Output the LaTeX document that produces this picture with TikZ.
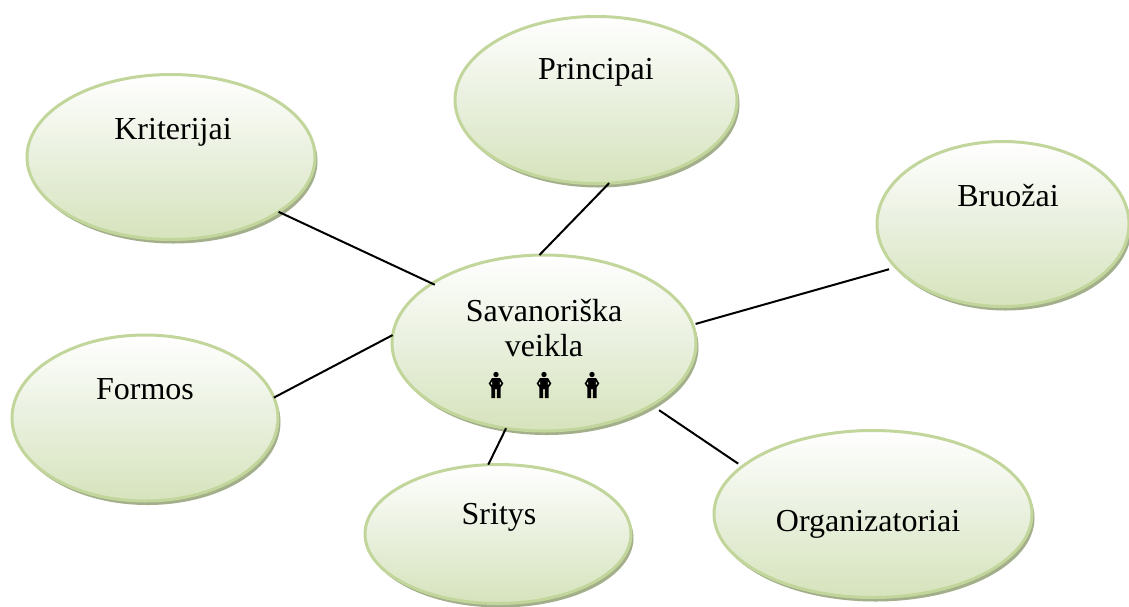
\documentclass[tikz,border=0pt]{standalone}
\usepackage{fontspec}
\setmainfont{Liberation Serif}
\usetikzlibrary{shapes.geometric,shadows}
\definecolor{rimcol}{HTML}{C2D69B}
\definecolor{lowcol}{HTML}{D6E3BC}
\definecolor{midcol}{HTML}{E9F0DE}
\definecolor{shadecol}{HTML}{A3AF8B}
\definecolor{holecol}{HTML}{DFE8CE}
\tikzset{
  x=1pt,y=-1pt,
  bubble/.style={ellipse,draw=rimcol,line width=3pt,inner sep=0pt,outer sep=0pt,
    top color=white,bottom color=lowcol,middle color=midcol,
    general shadow={shadow xshift=2.5pt,shadow yshift=-4pt,fill=shadecol,draw=none}},
  word/.style={font=\fontsize{32}{38}\selectfont,text=black,anchor=base,inner sep=0pt},
  link/.style={draw=black,line width=2pt},
  person/.pic={
    \fill[black] (0,-10.5) circle (2.7);
    \fill[black] (-4,-7) -- (4,-7) -- (7.3,-1.5) -- (4.6,2.5) -- (4.6,13) -- (0.8,13) -- (0.8,4) -- (-0.8,4) -- (-0.8,13) -- (-4.6,13) -- (-4.6,2.5) -- (-7.3,-1.5) -- cycle;
    \fill[holecol] (-5.2,-1.7) -- (-3.9,-3.6) -- (-3.9,0.2) -- cycle;
    \fill[holecol] (5.2,-1.7) -- (3.9,-3.6) -- (3.9,0.2) -- cycle;
  }
}
\begin{document}
\begin{tikzpicture}
\useasboundingbox[fill=white] (0,0) rectangle (1129,606);
\node[bubble,minimum width=288pt,minimum height=165pt] (kri) at (171,157) {};
\node[bubble,minimum width=282pt,minimum height=167pt] (pri) at (596,100) {};
\node[bubble,minimum width=252pt,minimum height=165pt] (bru) at (1003,224) {};
\node[bubble,minimum width=304pt,minimum height=176pt] (sav) at (544,343) {};
\node[bubble,minimum width=266pt,minimum height=166pt] (for) at (145,418) {};
\node[bubble,minimum width=266pt,minimum height=139pt] (sri) at (498,534) {};
\node[bubble,minimum width=318pt,minimum height=167pt] (org) at (873,514) {};
\node[word] (tkri) at (173,139) {Kriterijai};
\node[word] (tpri) at (596,79) {Principai};
\node[word] (tbru) at (1008,206) {Bruožai};
\node[word] (tsav) at (544,321) {Savanoriška};
\node[word] (tvei) at (544,356) {veikla};
\node[word] (tfor) at (145,399) {Formos};
\node[word] (tsri) at (499,524) {Sritys};
\node[word] (torg) at (868,531) {Organizatoriai};
\pic at (496,385) {person};
\pic at (544,385) {person};
\pic at (592,385) {person};
\draw[link,shorten >=-3pt] (kri.-27) -- (sav.152);
\draw[link] (pri.-81) -- (sav.93);
\draw[link,shorten <=7pt,shorten >=3pt] (bru.202) -- (sav.7);
\draw[link] (for.9.5) -- (sav.177);
\draw[link] (sri.98) -- (sav.246.6);
\draw[link,shorten <=5pt,shorten >=9pt] (org.160) -- (sav.-30);
\end{tikzpicture}
\end{document}
